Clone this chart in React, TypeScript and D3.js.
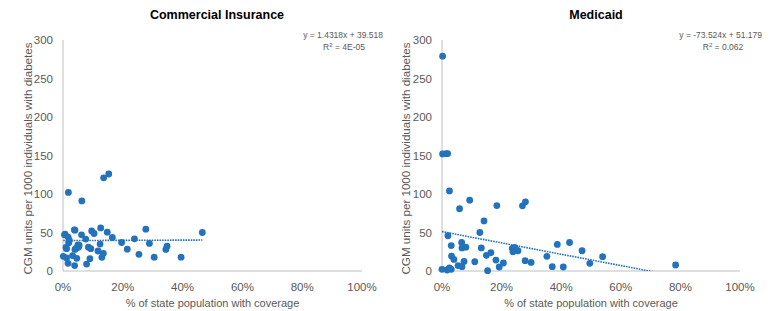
import { scaleLinear, format } from 'd3'

// [% of state population with coverage, CGM units per 1000]
const commercialPoints: [number, number][] = [
	[0.1, 19], [0.5, 47], [0.7, 48], [1.0, 30.6], [1.2, 29], [1.2, 17], [1.7, 44], [1.7, 10],
	[1.8, 102], [1.9, 36.6], [2.0, 38], [2.1, 40], [3.2, 20], [3.9, 7], [3.8, 53.5], [4.0, 53],
	[4.0, 28], [4.5, 30], [4.6, 16.5], [5.0, 34], [5.2, 31], [5.4, 33.5], [6.2, 47], [6.3, 91],
	[7.6, 41.4], [7.9, 9], [8.5, 31], [9.0, 16], [9.3, 29], [9.6, 52], [10.4, 48.7], [11.7, 26],
	[12.4, 35], [12.6, 56], [13.0, 17.7], [13.5, 23], [13.6, 121], [14.8, 50.4], [15.3, 126],
	[16.5, 43.5], [19.6, 37], [21.5, 28.4], [23.9, 41.8], [25.4, 21.6], [27.7, 54.3], [28.9, 35.8],
	[30.5, 18], [34.4, 28], [34.8, 32.3], [39.5, 18], [46.6, 50],
]

const medicaidPoints: [number, number][] = [
	[0.2, 279], [0.2, 152], [1.4, 152.5], [1.9, 152.5], [2.5, 104], [5.9, 81], [9.3, 92],
	[18.4, 85], [27.0, 84.6], [28.0, 89.8], [14.1, 65], [12.7, 50], [2.0, 45.8], [3.1, 33],
	[6.6, 37], [6.7, 30], [8.0, 31], [13.2, 30], [3.2, 19.4], [4.0, 15], [7.4, 12.5], [5.4, 7],
	[6.7, 5.6], [0.0, 2.2], [1.7, 1.3], [2.5, 3.9], [3.1, 2.2], [11.0, 12], [14.9, 20.3],
	[16.4, 23.7], [18.1, 14.2], [15.3, 0.4], [19.2, 5.2], [20.6, 10.4], [23.6, 29.4], [23.8, 25],
	[24.6, 29], [25.5, 26.3], [24.4, 30.6], [27.9, 13.4], [29.9, 11.2], [35.2, 19], [38.7, 34.5],
	[37.0, 5.6], [40.7, 5.2], [42.8, 37], [47.0, 26.3], [49.6, 10], [53.9, 18.6], [78.4, 7.8],
]

const xTicks = [0, 0.2, 0.4, 0.6, 0.8, 1]
const yTicks = [0, 50, 100, 150, 200, 250, 300]

const font = '"Liberation Sans", Arial, sans-serif'
const blue = '#2272BC'
const gray = '#595959'

interface PanelProps {
	id: string
	title: string
	points: [number, number][]
	slope: number
	intercept: number
	eqText: string
	r2Text: string
	left: number
	right: number
	titleX: number
	eqRight: number
	yTitleX: number
}

function Panel({ id, title, points, slope, intercept, eqText, r2Text, left, right, titleX, eqRight, yTitleX }: PanelProps) {
	const top = 40
	const bottom = 271
	const x = scaleLinear().domain([0, 1]).range([left, right])
	const y = scaleLinear().domain([0, 300]).range([bottom, top])
	const pct = format('.0%')

	const xs = points.map((p) => p[0] / 100)
	const minX = Math.min(...xs)
	const maxX = Math.max(...xs)

	return (
		<g>
			<defs>
				<clipPath id={`clip-${id}`}>
					<rect x={left} y={top} width={right - left} height={bottom - top} />
				</clipPath>
			</defs>
			<text x={titleX} y={19} textAnchor="middle" fontSize={12.5} fontWeight="bold" fill="#000">
				{title}
			</text>
			<text x={eqRight} y={38} textAnchor="end" fontSize={8.5} fill={gray}>
				{eqText}
			</text>
			<text x={eqRight - 39} y={50} textAnchor="middle" fontSize={8.5} fill={gray}>
				R<tspan dy={-3} fontSize={6}>2</tspan>
				<tspan dy={3}>{` = ${r2Text}`}</tspan>
			</text>

			{yTicks.map((t) => (
				<text key={t} x={left - 10} y={y(t)} dy="0.35em" textAnchor="end" fontSize={11.5} fill={gray}>
					{t}
				</text>
			))}
			{xTicks.map((t) => (
				<text key={t} x={x(t)} y={291} textAnchor="middle" fontSize={11.5} fill={gray}>
					{pct(t)}
				</text>
			))}

			<line x1={left} x2={left} y1={top} y2={bottom} stroke="#bfbfbf" />
			<line x1={left} x2={right} y1={bottom} y2={bottom} stroke="#bfbfbf" />

			<text x={(left + right) / 2} y={307} textAnchor="middle" fontSize={11} fill={gray}>
				% of state population with coverage
			</text>
			<text
				transform={`translate(${yTitleX}, ${(top + bottom) / 2 + 3}) rotate(-90)`}
				textAnchor="middle"
				fontSize={11.6}
				fill={gray}
			>
				CGM units per 1000 individuals with diabetes
			</text>

			{points.map((p, i) => (
				<circle key={i} cx={x(p[0] / 100)} cy={y(p[1])} r={3.4} fill={blue} />
			))}

			<line
				clipPath={`url(#clip-${id})`}
				x1={x(minX)}
				y1={y(slope * minX + intercept)}
				x2={x(maxX)}
				y2={y(slope * maxX + intercept)}
				stroke={blue}
				strokeWidth={1.6}
				strokeDasharray="1.6 1"
			/>
		</g>
	)
}

export default function App() {
	return (
		<svg
			width={773}
			height={311}
			viewBox="0 0 773 311"
			style={{ position: 'absolute', left: 0, top: 0, background: '#fff', fontFamily: font }}
		>
			<Panel
				id="commercial"
				title="Commercial Insurance"
				points={commercialPoints}
				slope={1.4318}
				intercept={39.518}
				eqText="y = 1.4318x + 39.518"
				r2Text="4E-05"
				left={63}
				right={362}
				titleX={217}
				eqRight={383}
				yTitleX={32}
			/>
			<Panel
				id="medicaid"
				title="Medicaid"
				points={medicaidPoints}
				slope={-73.524}
				intercept={51.179}
				eqText="y = -73.524x + 51.179"
				r2Text="0.062"
				left={442}
				right={740}
				titleX={596}
				eqRight={762}
				yTitleX={410}
			/>
		</svg>
	)
}
